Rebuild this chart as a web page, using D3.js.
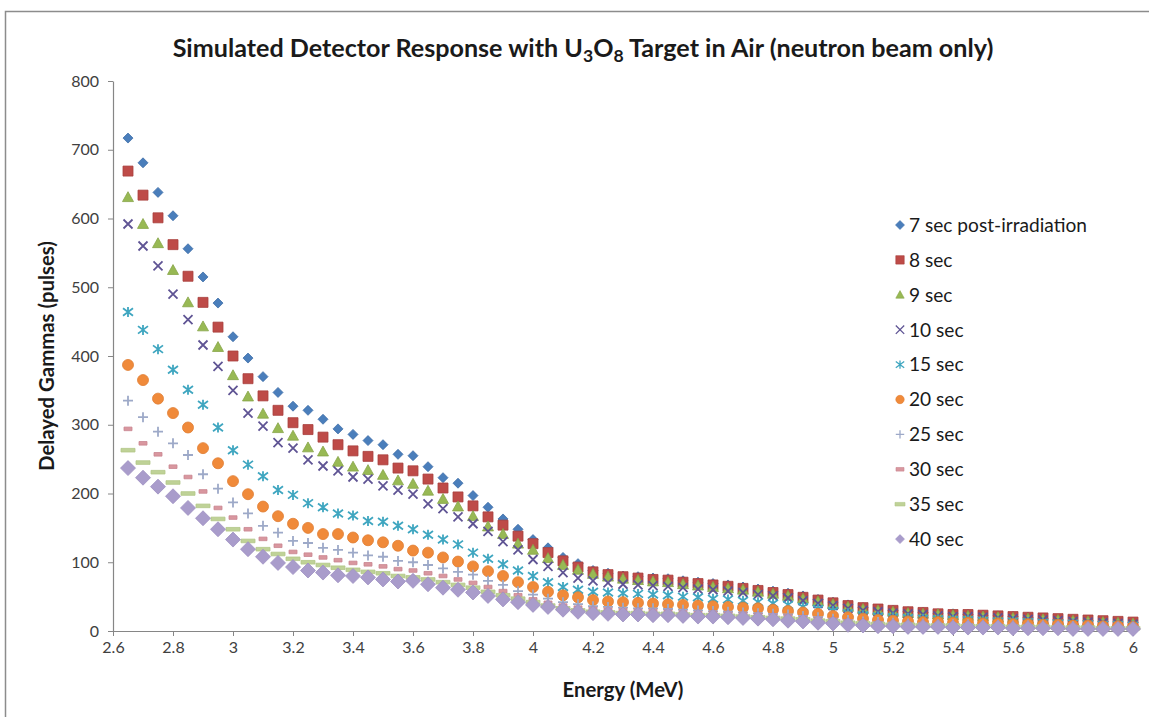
<!DOCTYPE html>
<html><head><meta charset="utf-8">
<script src="https://cdn.jsdelivr.net/npm/d3@7"></script>
<style>
html,body{margin:0;padding:0;background:#fff;}
svg{display:block;font-family:Lato,"Open Sans",sans-serif;}
</style></head>
<body>
<svg id="chart" width="1149" height="717"></svg>
<script>
const energies = [2.65,2.70,2.75,2.80,2.85,2.90,2.95,3.00,3.05,3.10,3.15,3.20,3.25,3.30,3.35,3.40,3.45,3.50,3.55,3.60,3.65,3.70,3.75,3.80,3.85,3.90,3.95,4.00,4.05,4.10,4.15,4.20,4.25,4.30,4.35,4.40,4.45,4.50,4.55,4.60,4.65,4.70,4.75,4.80,4.85,4.90,4.95,5.00,5.05,5.10,5.15,5.20,5.25,5.30,5.35,5.40,5.45,5.50,5.55,5.60,5.65,5.70,5.75,5.80,5.85,5.90,5.95,6.00];

const sec7  = [717,681,638,604,556,515,477,428,397,370,347,327,321,308,294,286,277,271,257,255,239,223,215,197,180,163,148,133,121,107,98,88,84,80,79,77,76,73,71,69,67,64,61,58,55,51,46,42,38,34,32,30,28,27,25,25,24,23,22,21,20,18,17,16,15,14,13,12];
const sec8  = [669,634,601,562,516,478,442,400,367,342,321,303,293,282,271,262,254,249,237,233,221,208,195,182,166,154,138,127,114,102,93,86,82,79,77,75,74,71,69,67,65,62,59,56,53,49,45,41,37,34,32,30,28,27,25,24,24,23,22,21,20,19,18,17,16,15,14,13];
const sec9  = [631,592,564,525,478,443,413,372,341,316,295,284,267,261,246,239,234,227,219,214,204,192,181,167,152,141,127,118,106,96,89,83,79,76,74,72,71,68,66,64,62,60,57,54,51,47,43,39,35,32,30,28,26,25,24,23,22,21,20,19,18,17,16,15,14,13,12,11];
const sec10 = [592,560,531,490,453,416,385,350,317,298,274,266,249,240,233,224,221,211,205,199,185,178,166,156,145,130,118,104,94,85,77,73,70,68,67,66,65,63,61,60,58,56,53,51,48,44,40,37,33,30,28,26,25,24,22,21,21,20,19,18,17,16,15,14,13,12,11,10];
const sec15 = [464,438,410,380,351,329,296,263,242,225,205,198,186,180,171,168,160,159,153,148,140,133,126,114,105,97,88,80,71,64,60,57,56,55,54,53,52,50,49,47,46,44,42,40,38,35,32,29,26,23,21,20,19,18,17,16,16,15,14,14,13,12,11,11,10,9,9,8];
const sec20 = [387,365,338,317,296,266,244,218,199,181,167,156,150,141,141,136,132,129,124,117,114,107,101,94,87,80,71,64,57,52,49,45,43,42,41,40,39,38,37,36,35,34,33,31,29,27,25,22,20,18,16,15,14,13,13,12,12,11,11,10,10,9,9,8,8,7,7,6];
const sec25 = [335,311,290,273,256,228,207,187,171,153,143,131,128,121,118,114,110,108,102,100,96,91,86,82,73,67,58,53,47,42,39,36,35,34,33,33,32,31,30,29,28,27,26,25,24,22,20,18,16,14,13,12,11,11,10,10,10,9,9,8,8,8,7,7,6,6,6,5];
const sec30 = [294,273,257,239,224,203,179,165,148,134,124,115,111,107,103,99,97,94,90,88,84,80,75,70,64,58,52,46,41,37,34,32,31,30,29,29,28,27,26,26,25,24,23,22,21,19,17,16,14,12,11,10,10,9,9,9,8,8,8,7,7,7,6,6,5,5,5,4];
const sec35 = [263,245,231,216,200,182,163,148,131,119,112,105,100,96,92,89,86,84,80,78,75,71,67,63,57,52,47,42,37,33,30,28,27,26,26,25,25,24,23,23,22,21,20,19,18,17,15,14,12,11,10,9,9,8,8,8,7,7,7,6,6,6,5,5,5,4,4,4];
const sec40 = [237,223,210,196,179,164,148,133,119,108,99,93,88,85,81,80,78,75,72,73,68,63,60,56,51,46,42,38,35,31,28,26,25,24,24,23,23,22,21,21,20,19,18,17,15,14,12,11,9,8,7,7,6,6,6,5,5,5,5,4,4,4,4,3,3,3,3,3];

const seriesNames = ["7 sec post-irradiation","8 sec","9 sec","10 sec","15 sec","20 sec","25 sec","30 sec","35 sec","40 sec"];
const seriesValues = [sec7,sec8,sec9,sec10,sec15,sec20,sec25,sec30,sec35,sec40];
const xTicks = [2.6,2.8,3,3.2,3.4,3.6,3.8,4,4.2,4.4,4.6,4.8,5,5.2,5.4,5.6,5.8,6];
const yTicks = [0,100,200,300,400,500,600,700,800];

// styles (kept apart from data)
const styles = [
  {shape:"diamond", r:5,   fill:"#4A7EBB", stroke:"#3F6FA8"},
  {shape:"square",  r:5,   fill:"#BE4B48", stroke:"#A8403D"},
  {shape:"triangle",r:5.5, fill:"#98B954", stroke:"#86A547"},
  {shape:"x",       r:4.5, fill:"none",    stroke:"#5F5494"},
  {shape:"star",    r:5,   fill:"none",    stroke:"#3FA6C0"},
  {shape:"circle",  r:5.5, fill:"#F08A3A", stroke:"#E07E33"},
  {shape:"plus",    r:5,   fill:"none",    stroke:"#9DA9C8"},
  {shape:"dash",    r:4,   fill:"#D9979F", stroke:"#C98590"},
  {shape:"ldash",   r:7,   fill:"#BFD297", stroke:"#B2C788"},
  {shape:"diamond", r:7.5, fill:"#A99CCB", stroke:"#9E90C2"}
];

function shapePath(shape, r){
  switch(shape){
    case "diamond": return `M0,${-r}L${r},0L0,${r}L${-r},0Z`;
    case "square": return `M${-r},${-r}H${r}V${r}H${-r}Z`;
    case "triangle": return `M0,${-r}L${r},${r*0.8}L${-r},${r*0.8}Z`;
    case "x": return `M${-r},${-r}L${r},${r}M${r},${-r}L${-r},${r}`;
    case "star": return `M${-r},${-r*0.75}L${r},${r*0.75}M${r},${-r*0.75}L${-r},${r*0.75}M0,${-r}L0,${r}`;
    case "circle": return d3.symbol(d3.symbolCircle, Math.PI*r*r)();
    case "plus": return `M${-r},0H${r}M0,${-r}V${r}`;
    case "dash": return `M${-r},-1.8H${r}V1.8H${-r}Z`;
    case "ldash": return `M${-r},-1.8H${r}V1.8H${-r}Z`;
  }
}

const svg = d3.select("#chart");
// chart area border
svg.append("rect").attr("x",5.5).attr("y",11.5).attr("width",1160).attr("height",720)
  .attr("fill","#fff").attr("stroke","#8c8c8c").attr("stroke-width",1.5);

const x = d3.scaleLinear().domain([2.6,6]).range([113,1133]);
const y = d3.scaleLinear().domain([0,800]).range([631,81]);

// axes
const xAxis = d3.axisBottom(x).tickValues(xTicks).tickSizeOuter(0).tickSizeInner(5).tickPadding(6)
  .tickFormat(d=>d3.format("")(+d.toFixed(1)));
const gx = svg.append("g").attr("transform",`translate(0,${y(0)})`).call(xAxis);
const yAxis = d3.axisLeft(y).tickValues(yTicks).tickSizeOuter(0).tickSizeInner(5).tickPadding(9);
const gy = svg.append("g").attr("transform",`translate(${x(2.6)},0)`).call(yAxis);
[gx,gy].forEach(g=>{
  g.select(".domain").attr("stroke","#868686").attr("stroke-width",1.2);
  g.selectAll(".tick line").attr("stroke","#868686");
  g.selectAll(".tick text").attr("fill","#404040").style("font-size","16px").style("font-family","Lato, sans-serif");
});

// series
seriesValues.forEach((vals,si)=>{
  const st = styles[si];
  const p = shapePath(st.shape, st.r);
  const g = svg.append("g");
  g.selectAll("path").data(vals).join("path")
    .attr("transform",(d,i)=>`translate(${x(energies[i])},${y(d)})`)
    .attr("d",p)
    .attr("fill",st.fill)
    .attr("stroke",st.stroke)
    .attr("stroke-width",(st.fill==="none")?1.8:0.8);
});

// legend
const legY0 = 225, legDy = 34.9;
const leg = svg.append("g");
const legTexts = [];
seriesNames.forEach((name,si)=>{
  const st = styles[si];
  const ly = legY0 + si*legDy;
  const lr = st.shape==="ldash" ? 5 : (st.shape==="diamond" ? 4.5 : Math.min(st.r,4.2));
  leg.append("path").attr("transform",`translate(${900},${ly})`).attr("d",shapePath(st.shape,lr))
    .attr("fill",st.fill).attr("stroke",st.stroke)
    .attr("stroke-width",(st.fill==="none")?1.3:0.6);
  legTexts.push(leg.append("text").attr("x",909).attr("y",ly).attr("dy","0.36em")
    .style("font-size","16px").attr("fill","#1a1a1a").text(name));
});

// titles
function fitText(sel, target){
  const w = sel.node().getComputedTextLength();
  const fs = parseFloat(sel.style("font-size"));
  const nf = fs*target/w;
  sel.style("font-size", nf.toFixed(2)+"px");
  return nf;
}
const lf = fitText(legTexts[0], 178);
legTexts.forEach(t=>t.style("font-size", lf.toFixed(2)+"px"));

const title = svg.append("text").attr("x",583).attr("y",57).attr("text-anchor","middle")
  .style("font-size","20px").style("font-weight","bold").attr("fill","#1a1a1a");
title.append("tspan").text("Simulated Detector Response with U");
title.append("tspan").attr("baseline-shift","-25%").style("font-size","70%").text("3");
title.append("tspan").text("O");
title.append("tspan").attr("baseline-shift","-25%").style("font-size","70%").text("8");
title.append("tspan").text(" Target in Air (neutron beam only)");
fitText(title, 821);

const yt = svg.append("text").attr("transform","translate(54,356) rotate(-90)").attr("text-anchor","middle")
  .style("font-size","17px").style("font-weight","bold").attr("fill","#1a1a1a").text("Delayed Gammas (pulses)");
const af = fitText(yt, 230);
const xt = svg.append("text").attr("x",623).attr("y",697).attr("text-anchor","middle")
  .style("font-size",af.toFixed(2)+"px").style("font-weight","bold").attr("fill","#1a1a1a").text("Energy (MeV)");
</script>
</body></html>
